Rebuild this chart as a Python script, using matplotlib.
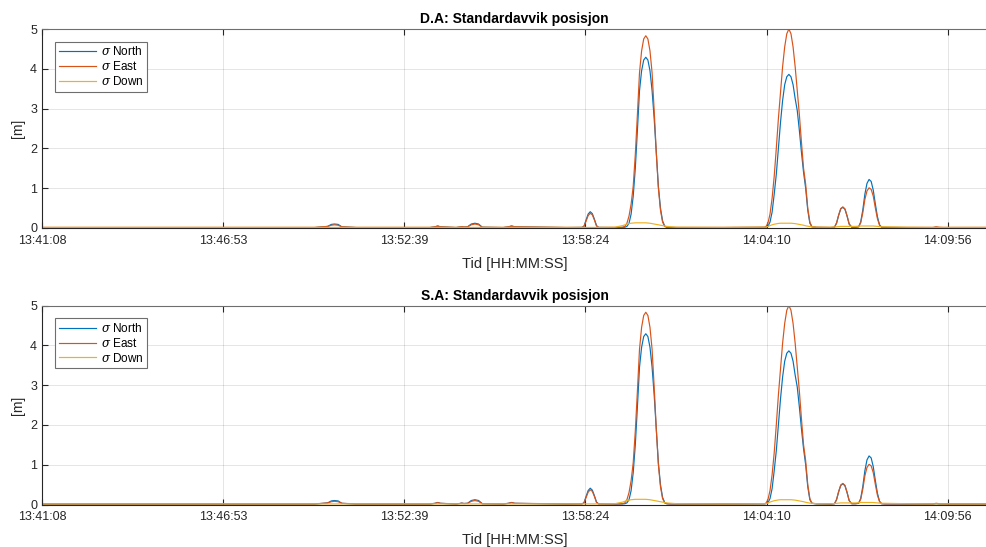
import matplotlib
matplotlib.use("Agg")
import matplotlib.pyplot as plt

# ---- data: seconds after 13:41:08, sigma in metres ----
# quiet stretch with small bumps
t_early = [0, 200, 400, 520, 545, 552, 558, 565, 572, 600, 740, 750, 755, 760, 790, 797, 801, 805,
           812, 819, 826, 833, 840, 880, 890, 896, 902, 1000]
n_early = [0.01, 0.01, 0.01, 0.01, 0.04, 0.09, 0.10, 0.09, 0.03, 0.01, 0.01, 0.03, 0.05, 0.03,
           0.01, 0.025, 0.035, 0.025, 0.03, 0.10, 0.12, 0.10, 0.02, 0.01, 0.03, 0.05, 0.03, 0.01]
e_early = [0.015, 0.015, 0.015, 0.015, 0.04, 0.07, 0.08, 0.07, 0.03, 0.015, 0.015, 0.03, 0.05, 0.03,
           0.015, 0.025, 0.035, 0.025, 0.03, 0.08, 0.10, 0.08, 0.02, 0.015, 0.03, 0.05, 0.03, 0.015]
d_early = [0.015] * 28

# small peak near 13:58:24
t_pk0 = [1030, 1034, 1038, 1042, 1046, 1050, 1054, 1058, 1062, 1093, 1104]
n_pk0 = [0.015, 0.04, 0.20, 0.35, 0.41, 0.36, 0.22, 0.06, 0.015, 0.01, 0.015]
e_pk0 = [0.015, 0.04, 0.17, 0.31, 0.37, 0.33, 0.20, 0.05, 0.015, 0.015, 0.015]
d_pk0 = [0.015, 0.015, 0.015, 0.015, 0.015, 0.015, 0.015, 0.015, 0.015, 0.02, 0.05]

# first large peak
t_pk1 = [1108, 1112, 1116, 1120, 1124, 1128, 1132, 1136, 1140, 1144, 1148, 1152, 1156, 1160,
         1164, 1168, 1172, 1176, 1180, 1184, 1188, 1192, 1196, 1211, 1300, 1378]
n_pk1 = [0.015, 0.02, 0.04, 0.12, 0.35, 0.80, 1.50, 2.45, 3.45, 3.95, 4.22, 4.29, 4.22, 3.95,
         3.45, 2.75, 1.90, 1.05, 0.50, 0.18, 0.05, 0.02, 0.015, 0.01, 0.01, 0.015]
e_pk1 = [0.02, 0.04, 0.12, 0.30, 0.60, 1.05, 1.85, 2.85, 3.90, 4.45, 4.75, 4.83, 4.75, 4.45,
         3.90, 2.95, 1.90, 1.00, 0.45, 0.15, 0.04, 0.02, 0.015, 0.015, 0.015, 0.02]
d_pk1 = [0.06, 0.08, 0.10, 0.11, 0.12, 0.125, 0.13, 0.13, 0.13, 0.13, 0.13, 0.13, 0.125, 0.12,
         0.11, 0.10, 0.09, 0.08, 0.07, 0.06, 0.05, 0.04, 0.035, 0.02, 0.015, 0.02]

# second large peak
t_pk2 = [1381, 1385, 1389, 1393, 1397, 1401, 1405, 1409, 1413, 1417, 1421, 1425, 1429, 1433,
         1437, 1441, 1445, 1449, 1453, 1457, 1461, 1465, 1469, 1478, 1505]
n_pk2 = [0.02, 0.04, 0.15, 0.40, 0.85, 1.35, 2.00, 2.65, 3.20, 3.60, 3.80, 3.86, 3.80, 3.60,
         3.25, 2.95, 2.45, 1.90, 1.40, 1.00, 0.45, 0.12, 0.03, 0.015, 0.01]
e_pk2 = [0.03, 0.12, 0.35, 0.75, 1.30, 2.00, 2.75, 3.40, 4.05, 4.55, 4.88, 5.00, 4.88, 4.55,
         4.05, 3.45, 2.85, 2.15, 1.50, 1.10, 0.50, 0.15, 0.03, 0.02, 0.015]
d_pk2 = [0.02, 0.04, 0.06, 0.08, 0.095, 0.105, 0.115, 0.12, 0.12, 0.12, 0.12, 0.12, 0.12, 0.115,
         0.11, 0.10, 0.09, 0.08, 0.07, 0.055, 0.045, 0.035, 0.03, 0.02, 0.02]

# two small late peaks and tail
t_late = [1512, 1516, 1520, 1524, 1528, 1532, 1536, 1540, 1545, 1552, 1558, 1562, 1566, 1570,
          1574, 1578, 1582, 1586, 1590, 1594, 1598, 1602, 1608, 1650, 1700, 1706, 1712, 1720, 1803]
n_late = [0.02, 0.12, 0.32, 0.48, 0.52, 0.47, 0.30, 0.10, 0.02, 0.02, 0.03, 0.15, 0.45, 0.85,
          1.12, 1.22, 1.17, 0.95, 0.60, 0.28, 0.08, 0.02, 0.015, 0.01, 0.01, 0.02, 0.01, 0.01, 0.01]
e_late = [0.02, 0.13, 0.33, 0.49, 0.53, 0.48, 0.31, 0.10, 0.02, 0.02, 0.03, 0.13, 0.38, 0.72,
          0.93, 1.01, 0.97, 0.80, 0.50, 0.23, 0.07, 0.02, 0.015, 0.015, 0.015, 0.03, 0.02, 0.015,
          0.015]
d_late = [0.025, 0.03, 0.035, 0.04, 0.04, 0.04, 0.04, 0.04, 0.04, 0.04, 0.045, 0.05, 0.05, 0.05,
          0.05, 0.05, 0.05, 0.05, 0.045, 0.04, 0.035, 0.03, 0.03, 0.02, 0.015, 0.015, 0.015, 0.015,
          0.015]

t_sec = t_early + t_pk0 + t_pk1 + t_pk2 + t_late
sigma_north = n_early + n_pk0 + n_pk1 + n_pk2 + n_late
sigma_east = e_early + e_pk0 + e_pk1 + e_pk2 + e_late
sigma_down = d_early + d_pk0 + d_pk1 + d_pk2 + d_late
assert len(t_sec) == len(sigma_north) == len(sigma_east) == len(sigma_down)

tick_seconds = [0, 345.6, 691.2, 1036.8, 1382.4, 1728.0]
tick_labels = ["13:41:08", "13:46:53", "13:52:39", "13:58:24", "14:04:10", "14:09:56"]
titles = ["D.A: Standardavvik posisjon", "S.A: Standardavvik posisjon"]
series_names = [r"$\sigma$ North", r"$\sigma$ East", r"$\sigma$ Down"]
x_max = 1803

colors = ["#0072BD", "#D95319", "#EDB120"]
plt.rcParams['font.family'] = ['Liberation Sans', 'DejaVu Sans']
plt.rcParams['mathtext.fontset'] = 'dejavuserif'

fig = plt.figure(figsize=(9.87, 5.47), dpi=100)
W, H = 987, 547
ax_boxes = [(42, 29, 987, 228), (42, 305.5, 987, 504.5)]
axc = "#262626"
for box, title in zip(ax_boxes, titles):
    x0, y0, x1, y1 = box
    ax = fig.add_axes([x0 / W, 1 - y1 / H, (x1 - x0) / W, (y1 - y0) / H])
    for vals, c, name in zip([sigma_north, sigma_east, sigma_down], colors, series_names):
        ax.plot(t_sec, vals, color=c, lw=0.85, label=name)
    ax.set_xlim(0, x_max)
    ax.set_ylim(0, 5)
    ax.set_yticks([0, 1, 2, 3, 4, 5])
    ax.set_xticks(tick_seconds)
    ax.set_xticklabels(tick_labels)
    ax.grid(True, color="#000000", alpha=0.12, lw=0.6)
    ax.tick_params(direction="in", length=4, width=0.8, colors=axc, labelsize=9,
                   top=True, labelcolor=axc)
    ax.tick_params(axis='x', pad=5)
    for s in ax.spines.values():
        s.set_color("#6e6e6e")
        s.set_linewidth(0.8)
    ax.spines['left'].set_color(axc)
    ax.spines['bottom'].set_color(axc)
    ax.set_title(title, fontsize=10, fontweight="bold", color="#000000", pad=4)
    ax.set_xlabel("Tid [HH:MM:SS]", fontsize=10.5, color=axc, labelpad=7)
    ax.set_ylabel("[m]", fontsize=10, color=axc, labelpad=4)
    leg = ax.legend(loc="upper left", bbox_to_anchor=(0.0138, 0.935), borderaxespad=0,
                    fontsize=8.5, handlelength=3.2, handletextpad=0.4, labelspacing=0.15,
                    borderpad=0.3, fancybox=False, framealpha=1, edgecolor="#6e6e6e")
    leg.get_frame().set_linewidth(0.8)

fig.savefig("out.png", dpi=100)
